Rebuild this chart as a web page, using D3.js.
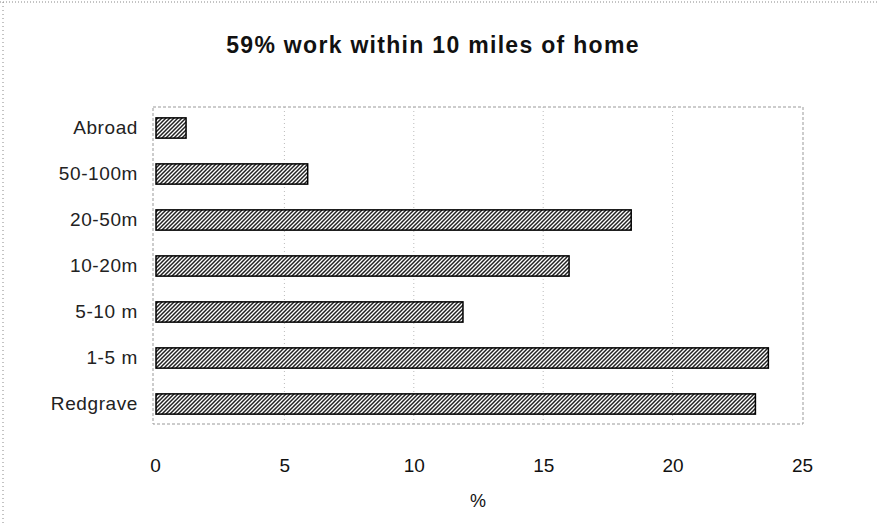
<!DOCTYPE html>
<html lang="en">
<head>
    <meta charset="UTF-8">
    <title>59% work within 10 miles of home</title>
    <script src="https://cdn.jsdelivr.net/npm/d3@7"></script>
    <style>
        body { margin: 0; background: #fff; }
        text { font-family: "Liberation Sans", Arial, sans-serif; }
    </style>
</head>
<body>
<div class="chart"></div>
<script>
    const categories = ['Abroad', '50-100m', '20-50m', '10-20m', '5-10 m', '1-5 m', 'Redgrave']
    const values = [1.2, 5.9, 18.4, 16.0, 11.9, 23.7, 23.2]
    const ticks = [0, 5, 10, 15, 20, 25]

    const width = 878
    const height = 524
    const plot = { left: 153, right: 803, top: 107, bottom: 424 }

    const svg = d3.select('.chart').append('svg')
        .attr('width', width)
        .attr('height', height)

    // hatch pattern for the bars
    const defs = svg.append('defs')
    const pat = defs.append('pattern')
        .attr('id', 'hatch')
        .attr('patternUnits', 'userSpaceOnUse')
        .attr('width', 4)
        .attr('height', 4)
    pat.append('rect').attr('width', 4).attr('height', 4).attr('fill', '#fff')
    pat.append('path')
        .attr('d', 'M-1,1 l2,-2 M0,4 l4,-4 M3,5 l2,-2')
        .attr('stroke', '#222')
        .attr('stroke-width', 1.5)

    // outer chart border (dotted)
    svg.append('line').attr('x1', 0).attr('x2', width).attr('y1', 2).attr('y2', 2)
        .attr('stroke', '#888').attr('stroke-dasharray', '1,2')
    svg.append('line').attr('x1', 3).attr('x2', 3).attr('y1', 2).attr('y2', height)
        .attr('stroke', '#888').attr('stroke-dasharray', '1,3')

    const x = d3.scaleLinear().domain([0, 25]).range([155, 802])
    const y = d3.scaleBand().domain(categories).range([105, 427])
        .paddingInner(0.56).paddingOuter(0.28)

    // plot area border
    svg.append('rect')
        .attr('x', plot.left).attr('y', plot.top)
        .attr('width', plot.right - plot.left).attr('height', plot.bottom - plot.top)
        .attr('fill', 'none')
        .attr('stroke', '#999')
        .attr('stroke-dasharray', '3,2')

    // dotted gridlines
    svg.append('g').selectAll('line')
        .data(ticks.slice(1, -1))
        .join('line')
        .attr('x1', d => x(d)).attr('x2', d => x(d))
        .attr('y1', plot.top).attr('y2', plot.bottom)
        .attr('stroke', '#bbb')
        .attr('stroke-dasharray', '1,3')

    // bars
    svg.append('g').selectAll('rect')
        .data(values)
        .join('rect')
        .attr('x', x(0) + 1)
        .attr('y', (d, i) => y(categories[i]))
        .attr('width', d => x(d) - x(0) - 1)
        .attr('height', y.bandwidth())
        .attr('fill', 'url(#hatch)')
        .attr('stroke', '#000')
        .attr('stroke-width', 1.5)

    // category axis
    const yAxis = d3.axisLeft(y).tickSize(0).tickPadding(15)
    const gy = svg.append('g')
        .attr('transform', `translate(${plot.left}, 0)`)
        .call(yAxis)
    gy.select('.domain').remove()
    gy.selectAll('text')
        .attr('font-size', 19)
        .attr('letter-spacing', 0.6)
        .attr('fill', '#222')
        .style('font-family', '"Liberation Sans", Arial, sans-serif')

    // value axis
    const xAxis = d3.axisBottom(x).tickValues(ticks).tickSize(0).tickPadding(35)
    const gx = svg.append('g')
        .attr('transform', `translate(0, ${plot.bottom})`)
        .call(xAxis)
    gx.select('.domain').remove()
    gx.selectAll('text')
        .attr('font-size', 19)
        .attr('fill', '#111')
        .style('font-family', '"Liberation Sans", Arial, sans-serif')

    // title
    svg.append('text')
        .attr('x', 433)
        .attr('y', 53)
        .attr('text-anchor', 'middle')
        .attr('font-size', 23)
        .attr('font-weight', 'bold')
        .attr('letter-spacing', 1.3)
        .attr('fill', '#111')
        .text('59% work within 10 miles of home')

    // axis title
    svg.append('text')
        .attr('x', 478)
        .attr('y', 507)
        .attr('text-anchor', 'middle')
        .attr('font-size', 18)
        .attr('fill', '#111')
        .text('%')
</script>
</body>
</html>
